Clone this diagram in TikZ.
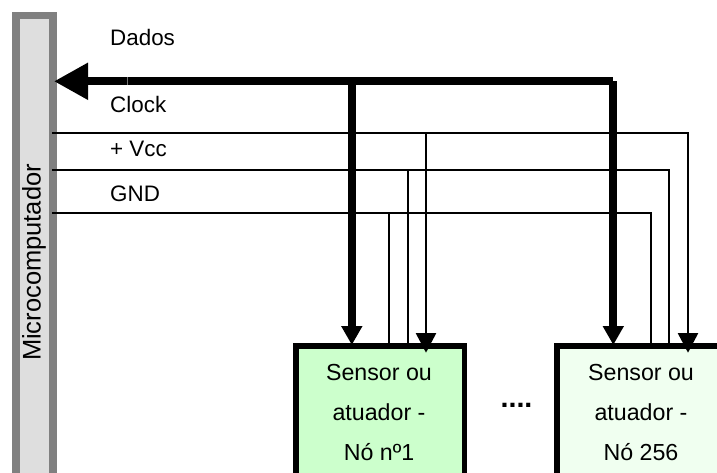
\documentclass[tikz,border=0pt]{standalone}
\usepackage{fontspec}
\setmainfont{Liberation Sans}
\usetikzlibrary{arrows.meta}
\definecolor{nodeA}{RGB}{204,255,204}
\definecolor{nodeB}{RGB}{240,255,240}
\tikzset{
  label text/.style={anchor=base west,inner sep=0pt,font=\fontsize{22.4}{26}\selectfont},
  bartext/.style={rotate=90,anchor=base,inner sep=0pt,font=\fontsize{25.5}{28}\selectfont},
  nodebox/.style={draw=black,line width=5.5pt,rectangle,inner sep=0pt,outer sep=0pt,anchor=north west},
  boxtext/.style={anchor=base,inner sep=0pt,font=\fontsize{23.2}{26}\selectfont},
  thinwire/.style={draw=black,line width=2pt},
  thinarrow/.style={thinwire,-{Triangle[length=19.5pt,width=20pt]}},
  buswire/.style={draw=black,line width=8pt},
  busarrow/.style={buswire,-{Triangle[length=19pt,width=20pt]}},
  busmain/.style={buswire,-{Triangle[length=34pt,width=35pt]}},
}
\begin{document}
\begin{tikzpicture}[x=1pt,y=-1pt]
\useasboundingbox (0,0) rectangle (717,473);
\clip (0,0) rectangle (717,473);
\fill[white] (0,0) rectangle (717,473);
% microcomputer bar
\node[rectangle,draw=black!50,fill=black!13,line width=7.4pt,inner sep=0pt,outer sep=0pt,
      anchor=north west,minimum width=37.3pt,minimum height=500pt] (bar) at (15.8,15.3) {};
\node[bartext] (bartxt) at (40.7,262.5) {Microcomputador};
% wire anchors
\coordinate (clkL) at (52,133);
\coordinate (vccL) at (52,170);
\coordinate (gndL) at (52,213);
\coordinate (busR) at (613.3,81.3);
\coordinate (busJ) at (351.8,81.3);
\coordinate (busE) at (54,81.3);
% labels
\node[label text] (dados) at (110,45.5) {Dados};
\node[label text] (clock) at (110,113) {Clock};
\node[label text] (vcc) at (110,157) {+ Vcc};
\node[label text] (gnd) at (110,201) {GND};
% boxes
\node[nodebox,fill=nodeA,minimum width=168.5pt,minimum height=200pt] (n1) at (296,346) {};
\node[nodebox,fill=nodeB,minimum width=200pt,minimum height=200pt] (n2) at (557,346) {};
\node[boxtext] (n1a) at (379,380) {Sensor ou};
\node[boxtext] (n1b) at (379,420) {atuador -};
\node[boxtext] (n1c) at (379,460) {Nó nº1};
\node[boxtext] (n2a) at (641,380) {Sensor ou};
\node[boxtext] (n2b) at (641,420) {atuador -};
\node[boxtext] (n2c) at (641,460) {Nó 256};
\node[anchor=base,inner sep=0pt,font=\fontsize{28.6}{30}\selectfont\bfseries] (dots) at (516.5,407.5) {....};
% targets on the boxes
\coordinate (n1gnd) at (389,344);
\coordinate (n1vcc) at (408,344);
\coordinate (n1clk) at (426,352.7);
\coordinate (n1bus) at (351.8,345);
\coordinate (n2gnd) at (650.5,344);
\coordinate (n2vcc) at (669,344);
\coordinate (n2clk) at (688,352.7);
\coordinate (n2bus) at (613.3,345);
% thin wires
\draw[thinwire] (gndL) -| (n2gnd);
\draw[thinwire] (vccL) -| (n2vcc);
\draw[thinarrow] (clkL) -| (n2clk);
\draw[thinwire] (n1gnd |- gndL) -- (n1gnd);
\draw[thinwire] (n1vcc |- vccL) -- (n1vcc);
\draw[thinarrow] (n1clk |- clkL) -- (n1clk);
% bus
\draw[busmain] (busR) -- (busE);
\draw[busarrow] (busJ) -- (n1bus);
\draw[busarrow] (busR) -- (n2bus);
\coordinate (seam) at (127.2,81.3);
\draw[black!55,line width=0.5pt] ([yshift=4pt]seam) -- ([yshift=-4pt]seam);
\end{tikzpicture}
\end{document}
